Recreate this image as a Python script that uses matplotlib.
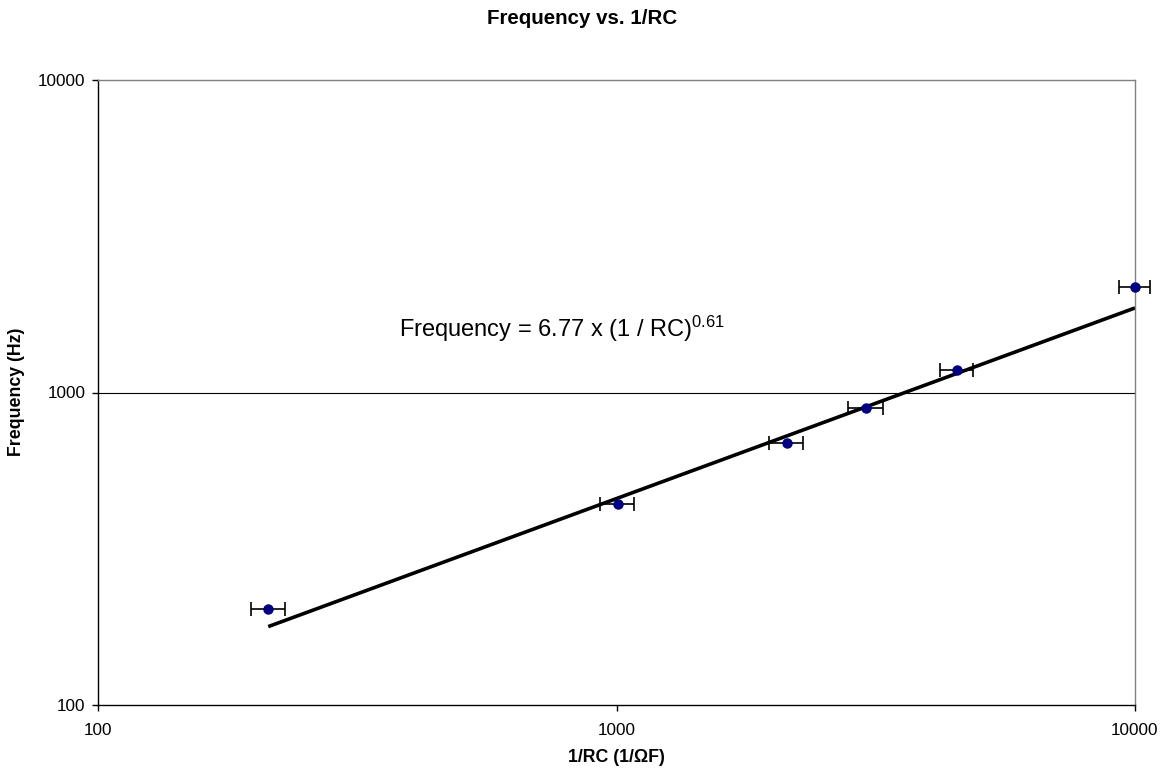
import matplotlib
matplotlib.use("Agg")
import matplotlib.pyplot as plt
from matplotlib.ticker import FixedLocator, NullLocator, FixedFormatter
import numpy as np

plt.rcParams['font.family'] = ['Liberation Sans', 'DejaVu Sans']
plt.rcParams['mathtext.fontset'] = 'custom'
plt.rcParams['mathtext.rm'] = 'Liberation Sans'
plt.rcParams['mathtext.it'] = 'Liberation Sans'

inv_rc = [213, 1005, 2130, 3030, 4540, 10000]
freq = [203, 440, 689, 892, 1180, 2175]
inv_rc_err = [16, 75, 160, 230, 340, 700]

# power-law trendline coefficients shown on the chart
coef = 6.77
expo = 0.61

fig = plt.figure(figsize=(11.64, 7.70), dpi=100)
ax = fig.add_axes([98/1164, 1 - 705/770, (1135-98)/1164, (705-80)/770])

ax.set_xscale("log")
ax.set_yscale("log")
ax.set_xlim(100, 10000)
ax.set_ylim(100, 10000)

ax.axhline(1000, color="black", lw=0.8, zorder=1)

xs = np.geomspace(min(inv_rc), max(inv_rc), 50)
ax.plot(xs, coef * xs**expo, color="black", lw=2.6, zorder=2, solid_capstyle="butt")

ax.errorbar(inv_rc, freq, xerr=inv_rc_err, fmt="o", ms=6.5, color="#000080",
            ecolor="black", elinewidth=1.2, capsize=5, capthick=1.2, zorder=3,
            clip_on=False)

ticks = [100, 1000, 10000]
labels = ["100", "1000", "10000"]
ax.xaxis.set_major_locator(FixedLocator(ticks))
ax.xaxis.set_major_formatter(FixedFormatter(labels))
ax.xaxis.set_minor_locator(NullLocator())
ax.yaxis.set_major_locator(FixedLocator(ticks))
ax.yaxis.set_major_formatter(FixedFormatter(labels))
ax.yaxis.set_minor_locator(NullLocator())

ax.tick_params(axis="both", direction="out", length=4, width=1, labelsize=12.3)
ax.tick_params(axis="y", pad=5)
ax.tick_params(axis="x", pad=9)

ax.spines["left"].set_color("black")
ax.spines["bottom"].set_color("black")
ax.spines["top"].set_color("#808080")
ax.spines["right"].set_color("#808080")
for s in ax.spines.values():
    s.set_linewidth(1)

fig.text(616/1164, 1 - 757/770, "1/RC (1/\u03a9F)", fontsize=12.8,
         fontweight="bold", ha="center", va="center")
fig.text(17/1164, 1 - 392/770, "Frequency (Hz)", fontsize=12.8,
         fontweight="bold", ha="center", va="center", rotation=90)
fig.text(582/1164, 1 - 19/770, "Frequency vs. 1/RC",
         ha="center", va="center", fontsize=14.8, fontweight="bold")

ax.text(380, 1506, "Frequency = 6.77 x (1 / RC)$^{0.61}$", fontsize=17,
        ha="left", va="baseline")

fig.savefig("out.png", dpi=100)
